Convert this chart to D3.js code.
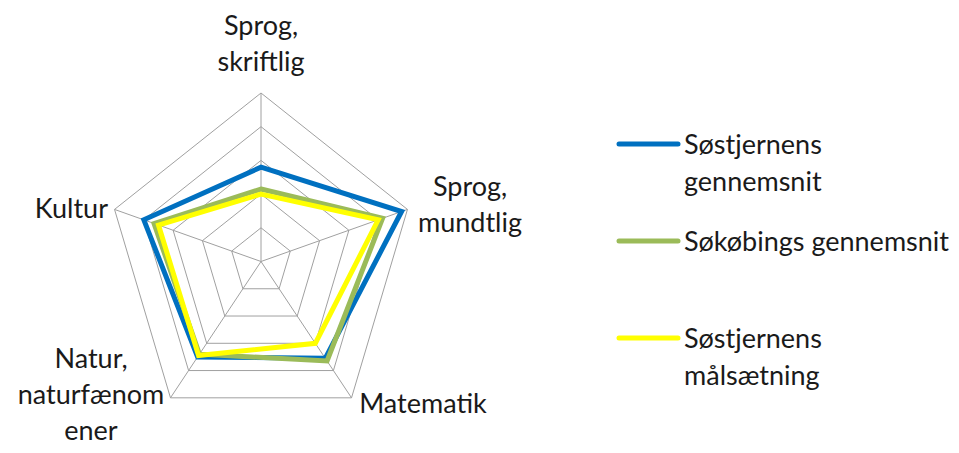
<!DOCTYPE html>
<html>
<head>
<meta charset="utf-8">
<script src="https://cdn.jsdelivr.net/npm/d3@7"></script>
<style>
  body { margin: 0; background: #fff; }
  text { font-family: Lato, "Open Sans", sans-serif; fill: #1a1a1a; }
</style>
</head>
<body>
<div id="chart"></div>
<script>
// chart data (scale 0-5, five grid rings)
const axes = ["Sprog, skriftlig", "Sprog, mundtlig", "Matematik", "Natur, naturfænomener", "Kultur"];
const axisLines = [["Sprog,", "skriftlig"], ["Sprog,", "mundtlig"], ["Matematik"], ["Natur,", "naturfænom", "ener"], ["Kultur"]];
const gridTicks = [1, 2, 3, 4, 5];
const seriesNames = [["Søstjernens", "gennemsnit"], ["Søkøbings gennemsnit"], ["Søstjernens", "målsætning"]];
const blueValues = [2.8, 4.8, 3.55, 3.5, 4.0];
const greenValues = [2.15, 4.15, 3.65, 3.4, 3.65];
const yellowValues = [2.0, 4.0, 3.0, 3.45, 3.5];
const seriesColors = ["#0070C0", "#9BBB59", "#FFFF00"];

const width = 959, height = 453;
const cx = 261, cy = 261.5;

const svg = d3.select("#chart").append("svg")
  .attr("width", width)
  .attr("height", height);

// the plot is a bit narrower than tall in the original
const rX = d3.scaleLinear().domain([0, 5]).range([0, 154]);
const rY = d3.scaleLinear().domain([0, 5]).range([0, 168.5]);
const angle = d3.scalePoint().domain(d3.range(axes.length + 1)).range([-Math.PI / 2, Math.PI * 1.5]);

function pt(i, v) {
  const a = angle(i);
  return [cx + rX(v) * Math.cos(a), cy + rY(v) * Math.sin(a)];
}

// grid rings
const grid = svg.append("g").attr("class", "grid");
gridTicks.forEach(function(t) {
  grid.append("path")
    .attr("d", d3.line().curve(d3.curveLinearClosed)(axes.map(function(d, i) { return pt(i, t); })))
    .attr("fill", "none")
    .attr("stroke", "#a0a0a0")
    .attr("stroke-width", 1);
});
axes.forEach(function(d, i) {
  const p = pt(i, 5);
  grid.append("line")
    .attr("x1", cx).attr("y1", cy)
    .attr("x2", p[0]).attr("y2", p[1])
    .attr("stroke", "#a0a0a0")
    .attr("stroke-width", 1);
});

// series lines
const radarLine = d3.line().curve(d3.curveLinearClosed);
[blueValues, greenValues, yellowValues].forEach(function(vals, s) {
  svg.append("path")
    .attr("d", radarLine(vals.map(function(v, i) { return pt(i, v); })))
    .attr("fill", "none")
    .attr("stroke", seriesColors[s])
    .attr("stroke-width", 5)
    .attr("stroke-linejoin", "miter");
});

// axis labels
const lineH = 36;
const labelPos = [
  {x: 261, y: 35, anchor: "middle"},
  {x: 470, y: 196, anchor: "middle"},
  {x: 423, y: 413, anchor: "middle"},
  {x: 91, y: 368, anchor: "middle"},
  {x: 108, y: 218, anchor: "end"}
];
axisLines.forEach(function(lines, i) {
  const t = svg.append("text")
    .attr("x", labelPos[i].x)
    .attr("y", labelPos[i].y)
    .attr("text-anchor", labelPos[i].anchor)
    .style("font-size", "27px");
  lines.forEach(function(l, k) {
    t.append("tspan").attr("x", labelPos[i].x).attr("y", labelPos[i].y + k * lineH).text(l);
  });
});

// legend
const legendY = [144, 241, 338];
const legend = svg.append("g").attr("class", "legend");
seriesNames.forEach(function(lines, s) {
  legend.append("line")
    .attr("x1", 619).attr("x2", 678)
    .attr("y1", legendY[s]).attr("y2", legendY[s])
    .attr("stroke", seriesColors[s])
    .attr("stroke-width", 5)
    .attr("stroke-linecap", "round");
  const t = legend.append("text")
    .attr("x", 684)
    .attr("y", legendY[s] + 10)
    .style("font-size", "27px");
  lines.forEach(function(l, k) {
    t.append("tspan").attr("x", 684).attr("y", legendY[s] + 10 + k * 37).text(l);
  });
});
</script>
</body>
</html>
